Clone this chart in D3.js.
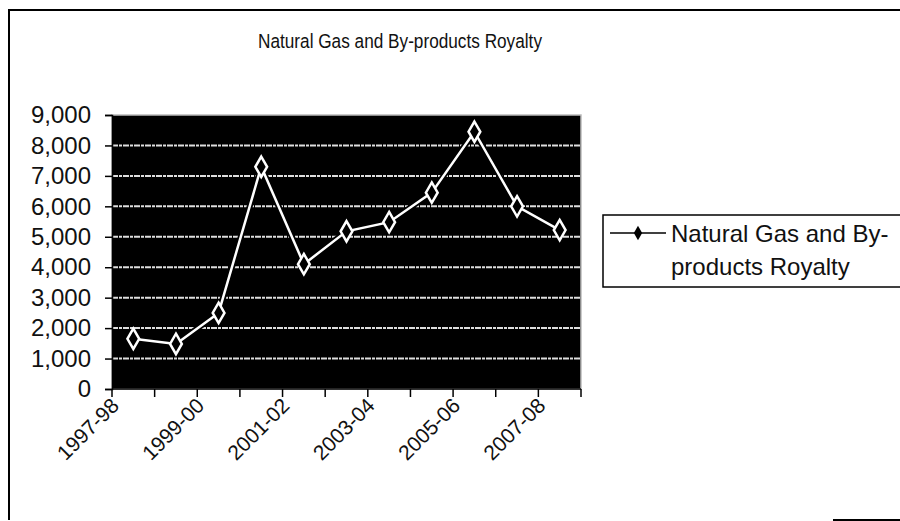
<!DOCTYPE html>
<html>
<head>
<meta charset="utf-8">
<script src="https://cdn.jsdelivr.net/npm/d3@7"></script>
<style>
  body { margin: 0; background: #fff; }
  svg { display: block; font-family: "Liberation Sans", Arial, sans-serif; }
</style>
</head>
<body>
<div id="chart"></div>
<script>
const years = ["1997-98", "1998-99", "1999-00", "2000-01", "2001-02", "2002-03",
               "2003-04", "2004-05", "2005-06", "2006-07", "2007-08"];
const royalty = [1650, 1480, 2500, 7300, 4100, 5180, 5480, 6450, 8450, 6000, 5220];
const yTicks = [0, 1000, 2000, 3000, 4000, 5000, 6000, 7000, 8000, 9000];
const seriesName = "Natural Gas and By-products Royalty";

const width = 900, height = 521;
const margin = { left: 112, right: 319, top: 115, bottom: 132 };

const svg = d3.select("#chart").append("svg")
    .attr("width", width)
    .attr("height", height);

// outer frame (top, left, bit of bottom)
svg.append("path")
    .attr("d", "M9,520 L9,10 L900,10")
    .attr("fill", "none")
    .attr("stroke", "#000")
    .attr("stroke-width", 2);
svg.append("line")
    .attr("x1", 833).attr("x2", 900).attr("y1", 520).attr("y2", 520)
    .attr("stroke", "#000").attr("stroke-width", 2);

// title is a little condensed in the original scan
svg.append("text")
    .attr("x", 400)
    .attr("y", 48)
    .attr("text-anchor", "middle")
    .attr("font-size", 20.5)
    .attr("textLength", 284)
    .attr("lengthAdjust", "spacingAndGlyphs")
    .attr("fill", "#111")
    .text(seriesName);

const x = d3.scaleBand()
    .domain(years)
    .range([margin.left, width - margin.right]);

const y = d3.scaleLinear()
    .domain([0, 9000])
    .range([height - margin.bottom, margin.top]);

// plot area
svg.append("rect")
    .attr("x", margin.left)
    .attr("y", margin.top)
    .attr("width", width - margin.left - margin.right)
    .attr("height", height - margin.top - margin.bottom)
    .attr("fill", "#000")
    .attr("stroke", "#bbb")
    .attr("stroke-width", 1.5);

svg.append("g")
    .selectAll("line")
    .data(yTicks.filter(d => d > 0 && d < 9000))
    .join("line")
    .attr("x1", margin.left)
    .attr("x2", width - margin.right)
    .attr("y1", d => y(d))
    .attr("y2", d => y(d))
    .attr("stroke", "#ddd")
    .attr("stroke-width", 2)
    .attr("stroke-dasharray", "6,1,3,1");

// y axis
const yAxis = svg.append("g")
    .attr("transform", `translate(${margin.left},0)`)
    .call(d3.axisLeft(y).tickValues(yTicks).tickFormat(d3.format(",")).tickSize(7).tickPadding(14));
yAxis.select(".domain").attr("stroke", "#000").attr("stroke-width", 1.5);
yAxis.selectAll(".tick line").attr("stroke", "#000").attr("stroke-width", 1.5);
yAxis.selectAll("text").attr("font-size", 24).attr("fill", "#111")
    .attr("font-family", "Liberation Sans, Arial, sans-serif");

// x axis ticks at band edges
const edges = years.map(d => x(d)).concat([x(years[years.length - 1]) + x.bandwidth()]);
svg.append("g")
    .selectAll("line")
    .data(edges)
    .join("line")
    .attr("x1", d => d).attr("x2", d => d)
    .attr("y1", y(0)).attr("y2", y(0) + 8)
    .attr("stroke", "#000")
    .attr("stroke-width", 1.5);
svg.append("line")
    .attr("x1", margin.left).attr("x2", width - margin.right)
    .attr("y1", y(0)).attr("y2", y(0))
    .attr("stroke", "#000").attr("stroke-width", 1.5);

svg.append("g")
    .selectAll("text")
    .data(years.filter((d, i) => i % 2 === 0))
    .join("text")
    .attr("transform", d => `translate(${x(d) + x.bandwidth() / 2 - 13},${y(0) + 18}) rotate(-45)`)
    .attr("text-anchor", "end")
    .attr("font-size", 21)
    .attr("fill", "#111")
    .text(d => d);

// series
const line = d3.line()
    .x((d, i) => x(years[i]) + x.bandwidth() / 2)
    .y(d => y(d));

svg.append("path")
    .datum(royalty)
    .attr("d", line)
    .attr("fill", "none")
    .attr("stroke", "#000")
    .attr("stroke-width", 6);
svg.append("path")
    .datum(royalty)
    .attr("d", line)
    .attr("fill", "none")
    .attr("stroke", "#fff")
    .attr("stroke-width", 2.5);

const diamond = d3.symbol().type(d3.symbolDiamond).size(120);
svg.append("g")
    .selectAll("path")
    .data(royalty)
    .join("path")
    .attr("transform", (d, i) => `translate(${x(years[i]) + x.bandwidth() / 2},${y(d)})`)
    .attr("d", diamond)
    .attr("fill", "#000")
    .attr("stroke", "#fff")
    .attr("stroke-width", 2.5);

// legend
const legend = svg.append("g");
legend.append("rect")
    .attr("x", 603).attr("y", 215)
    .attr("width", 310).attr("height", 72)
    .attr("fill", "#fff")
    .attr("stroke", "#000")
    .attr("stroke-width", 1.5);
legend.append("line")
    .attr("x1", 610).attr("x2", 666)
    .attr("y1", 233).attr("y2", 233)
    .attr("stroke", "#000").attr("stroke-width", 1.5);
legend.append("path")
    .attr("transform", "translate(638,233)")
    .attr("d", d3.symbol().type(d3.symbolDiamond).size(60))
    .attr("fill", "#000");
legend.append("text")
    .attr("x", 671).attr("y", 242)
    .attr("font-size", 24)
    .attr("fill", "#111")
    .text("Natural Gas and By-");
legend.append("text")
    .attr("x", 671).attr("y", 275)
    .attr("font-size", 24)
    .attr("fill", "#111")
    .text("products Royalty");
</script>
</body>
</html>
